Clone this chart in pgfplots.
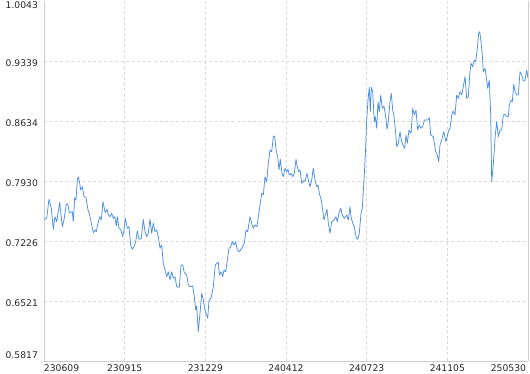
\documentclass[border=0pt]{standalone}
\usepackage{fontspec}
\setmainfont{DejaVu Sans}
\usepackage{pgfplots}
\pgfplotsset{compat=1.18}
\definecolor{linec}{RGB}{74,142,228}
\definecolor{gridc}{RGB}{218,218,218}
\definecolor{axc}{RGB}{205,205,205}
\begin{document}
\begin{tikzpicture}
\begin{axis}[
  scale only axis,
  width=484bp, height=360bp,
  xmin=44, xmax=528,
  ymin=0.5817, ymax=1.0043,
  axis x line*=bottom, axis y line*=left,
  axis line style={axc, line width=0.8pt},
  major tick length=0pt,
  xtick={44,124.67,205.33,286,366.67,447.33,528},
  xticklabels={\rlap{230609},230915,231229,240412,240723,241105,\llap{250530\kern2bp}},
  ytick={0.5817,0.6521,0.7226,0.7930,0.8634,0.9339},
  yticklabels={\smash{\raisebox{2.35bp}{0.5817}},\smash{\raisebox{-5.05bp}{0.6521}},\smash{\raisebox{-5.05bp}{0.7226}},\smash{\raisebox{-5.05bp}{0.7930}},\smash{\raisebox{-5.05bp}{0.8634}},\smash{\raisebox{-5.05bp}{0.9339}}},
  extra y ticks={1.0043},
  extra y tick labels={\smash{\raisebox{-7.65bp}{1.0043}}},
  extra y tick style={grid=none},
  grid=major,
  major grid style={gridc, line width=0.6pt, dash pattern=on 3bp off 2.5bp},
  tick label style={font=\fontsize{9.2bp}{11bp}\selectfont, text=black!85},
  yticklabel style={xshift=-2.6bp},
  /pgf/number format/assume math mode=true,
  clip=false,
]
\addplot[linec, line width=0.75pt, line join=round] coordinates {
(44,0.7480) (46.7,0.7492) (49,0.7715) (51.3,0.7613) (53.3,0.7363) (55,0.7511)
(56.7,0.7452) (59.7,0.7680) (60.7,0.7570) (62.3,0.7394) (64,0.7472) (66.3,0.7664)
(68,0.7648) (69.3,0.7558) (72.3,0.7570) (73.3,0.7452) (74.7,0.7734) (76,0.7707)
(77.3,0.7942) (78.3,0.7980) (79.7,0.7903) (80.7,0.7824) (82.3,0.7863) (84,0.7746)
(86,0.7739) (88,0.7590) (89.7,0.7531) (91.7,0.7414) (93.3,0.7323) (95,0.7355)
(96.3,0.7335) (98,0.7434) (99.7,0.7511) (101.3,0.7472) (103,0.7687) (104,0.7628)
(105.3,0.7558) (107,0.7598) (108.3,0.7531) (110,0.7511) (111.7,0.7551) (113.3,0.7492)
(114.7,0.7511) (116.3,0.7402) (117.3,0.7511) (119,0.7375) (120.7,0.7363) (122.7,0.7276)
(124,0.7355) (125.3,0.7492) (127.3,0.7375) (129,0.7394) (130.7,0.7179) (132.3,0.7128)
(134,0.7159) (135.7,0.7218) (137.3,0.7347) (139,0.7246) (141.3,0.7257) (143.3,0.7480)
(145,0.7335) (146.7,0.7276) (148.3,0.7316) (150,0.7484) (151.7,0.7316) (153.3,0.7434)
(155,0.7335) (156.7,0.7355) (158.3,0.7276) (160,0.7140) (161.7,0.7179) (163.3,0.6964)
(165,0.6885) (166.7,0.6807) (168.3,0.6865) (170,0.6768) (171.7,0.6865) (173.3,0.6788)
(175,0.6807) (176.7,0.6689) (179.3,0.6682) (181,0.6944) (182.7,0.6944) (184.3,0.6854)
(186.7,0.6827) (188.3,0.6709) (190,0.6689) (192.7,0.6698) (194.3,0.6572) (195.7,0.6416)
(196.7,0.6463) (198.3,0.6161) (200,0.6377) (201.7,0.6612) (203.3,0.6533) (204.3,0.6455)
(205.7,0.6377) (206.7,0.6357) (207.7,0.6318) (209,0.6533) (211,0.6553) (213.3,0.6689)
(215.3,0.6944) (216.7,0.6964) (218.3,0.6976) (219.3,0.6827) (221,0.6865) (222.7,0.6807)
(224,0.6885) (225.7,0.6865) (227.3,0.7003) (229,0.7140) (230.7,0.7159) (232.3,0.7218)
(234,0.7179) (235.7,0.7218) (237.3,0.7120) (239.3,0.7100) (242,0.7144) (244.3,0.7199)
(246,0.7355) (247.7,0.7335) (250,0.7511) (251.7,0.7434) (253.3,0.7375) (255,0.7414)
(257,0.7394) (259.3,0.7590) (261.7,0.7786) (263.3,0.7766) (265,0.7980) (266.7,0.7922)
(268.3,0.8138) (270,0.8294) (271.7,0.8274) (273.3,0.8450) (274.7,0.8458) (276,0.8294)
(277.7,0.8215) (279,0.8059) (280.3,0.8185) (282,0.8020) (283.3,0.7980) (285,0.8079)
(286.7,0.8039) (288,0.8067) (289.3,0.8000) (291.3,0.8020) (292.7,0.7980) (294.3,0.8020)
(296,0.8185) (297.3,0.8098) (298.7,0.8039) (300,0.8059) (301.7,0.7903) (303.7,0.7934)
(305.3,0.7930) (307,0.8020) (308.7,0.7922) (310,0.7863) (311.7,0.7942) (313.3,0.8079)
(315,0.7942) (316.7,0.7863) (318,0.7883) (319.7,0.7766) (321.3,0.7707) (322.7,0.7590)
(324,0.7472) (325.3,0.7531) (327,0.7598) (328.3,0.7434) (330,0.7316) (331.7,0.7452)
(334,0.7472) (336,0.7511) (337.3,0.7452) (339,0.7551) (340.7,0.7610) (342.3,0.7531)
(344.3,0.7492) (346.7,0.7531) (348.3,0.7472) (350,0.7628) (351,0.7511) (352.7,0.7434)
(354.3,0.7394) (356,0.7276) (357.7,0.7246) (359.3,0.7316) (361,0.7551) (362.3,0.7610)
(364,0.7942) (365.7,0.8333) (366.7,0.8646) (368,0.8881) (369.3,0.9030) (370.3,0.8743)
(371.3,0.9030) (372.7,0.8978) (374.3,0.8626) (375.3,0.8685) (376.7,0.8549) (378,0.8861)
(379.3,0.8743) (380.7,0.8940) (382.3,0.8783) (384,0.8810) (385.7,0.8685) (387,0.8537)
(388.3,0.8626) (390,0.8861) (391.3,0.8959) (392.7,0.8763) (394,0.8693) (395.7,0.8490)
(396.7,0.8333) (398.3,0.8373) (400,0.8509) (401.7,0.8391) (403.3,0.8341) (404.7,0.8314)
(406,0.8470) (407.3,0.8373) (409,0.8529) (411,0.8490) (412.7,0.8783) (414.3,0.8705)
(416,0.8763) (417.7,0.8529) (419.3,0.8587) (421,0.8549) (422.7,0.8567) (424.3,0.8646)
(427.7,0.8646) (429.3,0.8673) (430.7,0.8470) (433.3,0.8450) (435.7,0.8274) (437.3,0.8235)
(438.7,0.8157) (440,0.8353) (441.7,0.8411) (443.7,0.8509) (446,0.8391) (448.3,0.8509)
(450,0.8549) (451.7,0.8705) (453.3,0.8752) (455,0.8705) (456.7,0.8940) (458.3,0.8901)
(460,0.8978) (461.7,0.8940) (463.3,0.9037) (465,0.9154) (466.7,0.8901) (468.3,0.8920)
(469.7,0.9174) (471,0.9312) (472.7,0.9272) (474.3,0.9350) (475.7,0.9330) (477.3,0.9488)
(478.7,0.9664) (479.7,0.9683) (481,0.9565) (482.3,0.9409) (483.3,0.9213) (485,0.9253)
(486.3,0.9154) (487.7,0.9018) (489.3,0.9116) (490.7,0.8705) (491.7,0.7922) (493.3,0.8118)
(495,0.8431) (496.7,0.8626) (498.3,0.8450) (500,0.8529) (501.7,0.8529) (503.3,0.8705)
(505,0.8713) (506.7,0.8685) (508.3,0.8685) (509.3,0.8822) (511,0.8881) (512.3,0.8861)
(513.7,0.9065) (515,0.8978) (516.7,0.8940) (518.3,0.8940) (520,0.9213) (521.7,0.9174)
(523.3,0.9104) (525,0.9116) (526.7,0.9233) (528,0.9136)
};
\draw[axc, line width=0.8pt] (rel axis cs:1,0) -- (rel axis cs:1,1);
\end{axis}
\pgfresetboundingbox
\useasboundingbox (-44bp,-13bp) rectangle (486bp,361bp);
\end{tikzpicture}
\end{document}
